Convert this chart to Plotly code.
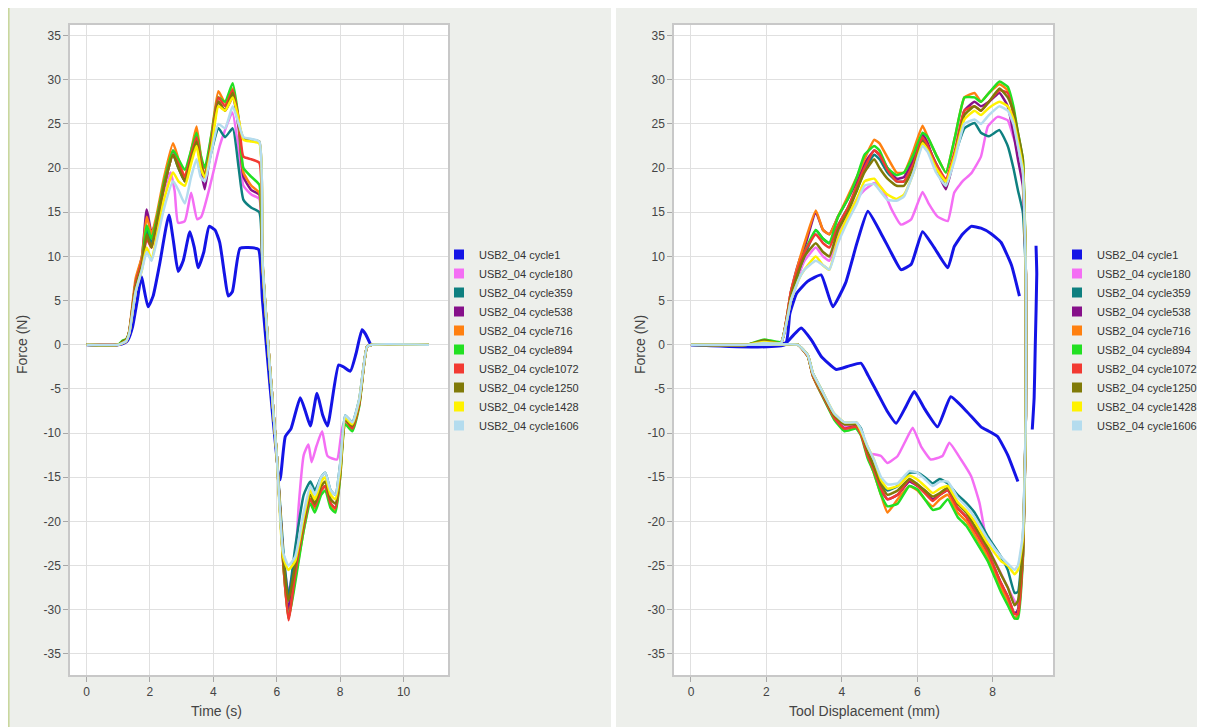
import plotly.graph_objects as go

# ---------------- data ----------------
series_names = ["USB2_04 cycle1", "USB2_04 cycle180", "USB2_04 cycle359", "USB2_04 cycle538",
                "USB2_04 cycle716", "USB2_04 cycle894", "USB2_04 cycle1072", "USB2_04 cycle1250",
                "USB2_04 cycle1428", "USB2_04 cycle1606"]
series_colors = ["#1414E6", "#F46EF4", "#0E8080", "#86108A", "#FF8010", "#22E022",
                 "#F23A32", "#807A08", "#FFF200", "#B4DCEE"]

x_ticks_time = [0, 2, 4, 6, 8, 10]
x_ticks_disp = [0, 2, 4, 6, 8]
y_ticks = [35, 30, 25, 20, 15, 10, 5, 0, -5, -10, -15, -20, -25, -30, -35]
y_tick_labels = ["35", "30", "25", "20", "15", "10", "5", "0", "-5", "-10", "-15", "-20", "-25", "-30", "-35"]

# ---- Force vs Time ----
time_c1 = [0, 1.0, 1.2, 1.3, 1.45, 1.6, 1.73, 1.94, 2.1, 2.3, 2.6, 2.75, 2.89, 3.05, 3.26, 3.4, 3.52, 3.7,
           3.87, 4.05, 4.2, 4.35, 4.47, 4.6, 4.84, 5.1, 5.42, 5.55, 6.1, 6.27, 6.45, 6.74, 6.9, 7.06, 7.27,
           7.45, 7.6, 7.95, 8.1, 8.32, 8.5, 8.69, 8.8, 8.96]
force_t_c1 = [0, 0, 0.2, 0.5, 2, 5, 7.7, 4.3, 5.5, 9, 14.7, 11.5, 8.3, 9.5, 12.8, 11, 8.7, 10.5,
              13.4, 13, 11.6, 8, 5.5, 6, 10.9, 11, 10.8, 5, -15.3, -10.4, -9.5, -6.0, -7.5, -9.2, -5.5,
              -8, -9.2, -2.3, -2.5, -3.0, -1, 1.7, 1.2, 0]

time_c180 = [0, 1.0, 1.15, 1.25, 1.35, 1.55, 1.75, 1.9, 2.05, 2.2, 2.45, 2.65, 2.78, 2.89, 3.1, 3.3, 3.49,
             3.62, 3.89, 4.2, 4.36, 4.6, 4.8, 4.95, 5.2, 5.45, 5.55, 5.75, 6.0, 6.2, 6.37, 6.6, 6.69, 6.85,
             7.0, 7.1, 7.25, 7.43, 7.6, 7.9, 8.1, 8.38, 8.6, 8.85, 9.0, 10.8]
force_t_c180 = [0, 0, 0.2, 0.4, 1.4, 6.5, 9, 12, 11, 13, 17.5, 19.5, 17.4, 13.8, 14, 17.2, 14.2,
                14.5, 17.9, 22.5, 24.2, 26.3, 22, 18, 17, 16.5, 9, -1, -12.5, -24, -28, -23.5, -18.3, -12.5,
                -11.3, -13.3, -11.5, -9.8, -12.6, -13, -9, -9, -6.5, -0.2, 0, 0]

time_grid = [0, 1.0, 1.15, 1.25, 1.35, 1.55, 1.75, 1.9, 2.05, 2.2, 2.45, 2.73, 2.9, 3.1, 3.3, 3.47, 3.6,
             3.73, 3.95, 4.16, 4.37, 4.61, 4.8, 4.95, 5.2, 5.45, 5.55, 5.75, 6.0, 6.2, 6.37, 6.58, 6.85,
             7.06, 7.2, 7.4, 7.53, 7.7, 7.85, 8.0, 8.16, 8.38, 8.6, 8.85, 9.0, 10.8]
force_t_c359 = [0, 0, 0.2, 0.4, 1.5, 6.5, 9, 13, 11.5, 13.5, 18, 21.5, 20, 18.5, 21, 23, 20.5, 19, 22, 24.5,
                23.5, 24.5, 20, 16.4, 15.5, 15, 8.5, -1.5, -12.5, -23, -28.5, -23, -17, -15.5, -16.5, -15,
                -14.5, -16.5, -17, -13.5, -8, -8.8, -6.2, -0.2, 0, 0]
force_t_c538 = [0, 0, 0.2, 0.4, 1.5, 7, 10, 15.3, 12.7, 14, 18.5, 22, 20.5, 18.5, 21.5, 23.5, 20, 17.6, 23,
                27.5, 26.5, 28, 24.5, 19, 17.5, 17, 9, -1, -12.5, -24, -30, -25, -20.5, -17.5, -18.5, -16.5,
                -16, -18, -18.5, -14.5, -8.5, -9.3, -6.6, -0.2, 0, 0]
force_t_c716 = [0, 0, 0.2, 0.4, 1.6, 7.5, 10, 14.5, 12.5, 14.5, 19, 22.8, 21, 19, 22, 24.7, 21.5, 19, 24,
                28.7, 27.4, 29, 25, 19.5, 18, 17.2, 9, -1, -12.5, -24.5, -31, -26.5, -21, -17.5, -18.5,
                -16.5, -16, -18, -18.8, -15, -9, -9.5, -6.8, -0.2, 0, 0]
force_t_c894 = [0, 0, 0.5, 0.6, 1.5, 7, 9.5, 13.5, 12, 14, 18.5, 22, 21, 19.8, 22, 24, 21.5, 20, 24, 28,
                27.5, 29.6, 25.5, 20, 19, 18.1, 9, -1, -12.5, -24.5, -31, -27, -21, -18, -19, -17, -16.5,
                -18.5, -19, -15, -9, -9.8, -7, -0.2, 0, 0]
force_t_c1072 = [0, 0, 0.2, 0.4, 1.5, 7, 9.5, 12, 11, 13.5, 18, 21.5, 20.5, 19, 21.5, 23.5, 21, 19, 23.5,
                 28, 27, 28.8, 25.5, 21.3, 21, 20.6, 9, -1, -12.5, -24.5, -31.2, -26, -20.5, -17.5, -18.3,
                 -16.5, -16, -18, -18.5, -14.5, -8.5, -9.5, -6.8, -0.2, 0, 0]
force_t_c1250 = [0, 0, 0.4, 0.6, 1.4, 6.5, 9, 12.5, 11, 13.5, 18, 21.5, 20, 18.5, 21, 23, 20.5, 19, 23,
                 27.5, 26.5, 28.5, 25, 23.4, 23.2, 23, 9.5, -1, -12.5, -24, -29, -25, -20, -17, -18, -16,
                 -15.5, -17.5, -18, -14, -8.5, -9.2, -6.5, -0.2, 0, 0]
force_t_c1428 = [0, 0, 0.2, 0.4, 1.3, 6, 8.5, 11, 9.6, 12, 16.5, 19.5, 18.5, 18, 20.5, 22.5, 20, 19, 22.5,
                 27, 26.5, 28, 25.5, 23.2, 23, 22.8, 9.5, -1, -12.5, -24, -25.5, -24.5, -19.5, -16.5, -17.5,
                 -15.5, -15, -17, -17.5, -14, -8.3, -9, -6.3, -0.2, 0, 0]
force_t_c1606 = [0, 0, 0.2, 0.4, 1.3, 6, 8.5, 10.5, 9.5, 11.5, 15.5, 18.5, 17.5, 16, 19, 21, 19, 18.5, 22,
                 25, 24.5, 27, 25, 23.5, 23.3, 23, 9.5, -1, -12.5, -23.5, -25, -24, -19, -16, -17, -15,
                 -14.5, -16.5, -17, -13.5, -8, -8.8, -6.2, -0.2, 0, 0]

# ---- Force vs Tool displacement ----
disp_c1_load = [0, 2.5, 2.62, 2.8, 3.1, 3.45, 3.76, 4.1, 4.4, 4.69, 5.04, 5.3, 5.57, 5.84, 6.14, 6.45,
                6.81, 6.98, 7.2, 7.43, 7.69, 7.95, 8.22, 8.5, 8.71]
force_d_c1_load = [0, 0, 3.5, 5.8, 7.2, 7.9, 4.3, 7, 11.5, 15.1, 12.6, 10.5, 8.5, 9.1, 12.8, 11,
                   8.7, 11.1, 12.5, 13.4, 13.2, 12.6, 11.6, 9, 5.5]
disp_c1_drop = [9.15, 9.17, 9.13, 9.1, 9.05]
force_d_c1_drop = [11.2, 8, 0, -6, -9.6]
disp_c1_unload = [8.67, 8.4, 8.13, 7.9, 7.69, 7.3, 6.89, 6.54, 6.2, 5.92, 5.7, 5.44, 5.2, 4.95, 4.7, 4.51,
                  4.2, 3.85, 3.45, 3.2, 2.92, 2.7, 2.52, 2.0, 0]
force_d_c1_unload = [-15.5, -12.5, -10.4, -9.8, -9.3, -7.5, -5.9, -9.3, -7.3, -5.3, -7, -8.9, -7.5, -5.5,
                     -3.5, -2.1, -2.4, -2.8, -1.3, 0.5, 1.9, 1.0, 0.2, 0, 0]

disp_c180_load = [0, 1.5, 1.94, 2.39, 2.65, 2.87, 3.01, 3.31, 3.5, 3.67, 3.9, 4.16, 4.4, 4.6, 4.86, 5.0,
                  5.13, 5.3, 5.57, 5.84, 6.14, 6.3, 6.54, 6.81, 6.98, 7.2, 7.43, 7.69, 7.87, 8.13, 8.4,
                  8.55, 8.71, 8.8, 8.88]
force_d_c180_load = [0, 0, 0.3, 0.2, 5, 8, 9.5, 11, 10, 9.5, 12.5, 14.5, 16.5, 17.5, 18.3, 18,
                     17.2, 15.5, 13.6, 14.2, 17.3, 16, 14.5, 14, 17.2, 18.5, 19.4, 21.3, 24.7, 25.8, 25.4,
                     23.5, 21.6, 19, 8]
disp_c180_unload = [8.88, 8.8, 8.67, 8.58, 8.4, 8.22, 7.87, 7.65, 7.43, 7.16, 6.85, 6.67, 6.36, 6.1, 5.88,
                    5.7, 5.48, 5.21, 5.04, 4.85, 4.68, 4.51, 4.38, 4.07, 3.8, 3.45, 3.23, 3.1, 2.83, 2.0, 0]
force_d_c180_unload = [-8, -23, -29.5, -29, -27.5, -25.9, -22.8, -17.9, -14.9, -13, -11.1, -12.6, -13,
                       -11.5, -9.4, -10.8, -12.6, -13.4, -12.6, -12.4, -12.3, -10, -9.1, -9.2, -8.1, -5.3,
                       -3.4, -1.3, 0, 0, 0]

disp_load_grid = [0, 1.5, 1.94, 2.39, 2.65, 2.87, 3.01, 3.31, 3.5, 3.67, 3.9, 4.16, 4.4, 4.6, 4.86, 5.0,
                  5.21, 5.45, 5.65, 5.9, 6.14, 6.28, 6.5, 6.76, 7.0, 7.25, 7.52, 7.69, 7.9, 8.18, 8.4,
                  8.55, 8.67, 8.8, 8.88]
disp_unload_grid = [8.88, 8.8, 8.67, 8.58, 8.4, 8.22, 7.87, 7.52, 7.3, 7.07, 6.81, 6.6, 6.41, 6.2, 6.01,
                    5.79, 5.48, 5.21, 5.04, 4.85, 4.68, 4.51, 4.38, 4.07, 3.8, 3.45, 3.23, 3.1, 2.83, 2.0, 0]

force_d_c359_load = [0, 0, 0.3, 0.2, 5, 8.5, 10, 13, 12, 11.5, 13.5, 15.5, 17.5, 19.8, 21.5, 21, 19.5,
                     18.5, 18.5, 20.5, 23.2, 22.5, 20.5, 18.5, 21.5, 24.5, 25.1, 24, 23.6, 24.3, 22.5, 20,
                     17.5, 15, 8]
force_d_c538_load = [0, 0, 0.2, 0.2, 6, 9.5, 11, 15, 13, 12.5, 14.5, 16.5, 18.5, 20.5, 22, 21.5, 20,
                     18.8, 19, 21, 23.8, 22.8, 20, 17.6, 21.5, 26.5, 27.5, 27, 27.5, 28.5, 27, 24, 21, 18, 8]
force_d_c716_load = [0, 0, 0.2, 0.2, 6, 9.5, 11.5, 15.2, 13, 12.5, 14.5, 16.8, 19, 21, 23.2, 22.8, 21.2,
                     19.5, 19.5, 22, 24.8, 23.5, 21.5, 19.5, 23.5, 28, 28.5, 27.5, 28.5, 29.5, 28.8, 26.5,
                     23.5, 20, 8]
force_d_c894_load = [0, 0, 0.6, 0.3, 5.5, 8.5, 10.5, 13, 12, 11.5, 14.5, 16.5, 19, 21.5, 22.5, 22, 20,
                     19.2, 19.5, 21.5, 24, 23.5, 21.5, 19.5, 23.5, 28, 28, 27.5, 28.5, 29.8, 29.2, 27, 24,
                     21, 8]
force_d_c1072_load = [0, 0, 0.3, 0.2, 6, 9, 10.5, 12.5, 11.5, 11, 13.5, 15.5, 18, 20, 22, 21.5, 19.8,
                      18.5, 18.5, 20.5, 23.5, 22.5, 20.5, 18.8, 22, 26.5, 27, 26.5, 27.5, 28.8, 28.5, 26,
                      23, 20, 8]
force_d_c1250_load = [0, 0, 0.5, 0.2, 5.5, 8.5, 10, 11.5, 10.5, 10, 13, 15, 17.5, 19.5, 21, 20, 18.8,
                      18, 18, 20, 23, 22, 20, 18, 21.5, 26, 27, 26.5, 27.5, 29, 28, 26.5, 24, 21, 8]
force_d_c1428_load = [0, 0, 0.3, 0.2, 5, 7.5, 8.5, 10, 9, 8.5, 12, 14.5, 16.5, 18.5, 18.8, 18, 17,
                      16.5, 17, 19.5, 22.8, 22, 20, 18.5, 21.5, 25.5, 26.5, 26, 26.8, 27.5, 27, 25.5, 23,
                      20, 8]
force_d_c1606_load = [0, 0, 0.2, 0.2, 5, 7.5, 8.5, 9.5, 9, 8.5, 11.5, 14, 16, 18, 18.2, 17.5, 16.4,
                      16.3, 16.8, 19.5, 22.5, 21.8, 19.5, 18, 21, 25, 25.5, 25, 26, 27, 26.5, 25, 22.5,
                      19.5, 8]

force_d_c359_unload = [-8, -22, -28, -28.1, -25.5, -24, -21.7, -19, -17.9, -17, -15.7, -15.2, -15.7, -15,
                       -14.5, -14.5, -16, -16.5, -15.5, -13.5, -12, -9.5, -8.8, -9, -8, -5, -3.2, -1.2,
                       0, 0, 0]
force_d_c538_unload = [-8, -24, -30, -30.5, -28.5, -27, -23.5, -21, -19.5, -18.5, -16.5, -17, -17.5,
                       -16.5, -16, -15.5, -17, -17.5, -16.5, -14, -12.5, -10, -9.2, -9.5, -8.3, -5.5,
                       -3.5, -1.3, 0, 0, 0]
force_d_c716_unload = [-8, -24, -30.5, -31, -29, -27.5, -24, -21.5, -20, -19, -17, -17.5, -18.3, -17.5,
                       -16.5, -16, -17.5, -19, -17, -14.5, -12.5, -10, -9, -9, -8, -5.5, -3.5, -1.3,
                       0, 0, 0]
force_d_c894_unload = [-8, -24.5, -31, -31, -29.5, -28, -24.5, -22, -20.5, -19.5, -17.5, -18.5, -18.7,
                       -17.5, -16.4, -16, -18, -18.3, -17, -14.5, -12.8, -10.3, -9.5, -9.8, -8.5, -5.5,
                       -3.5, -1.3, 0, 0, 0]
force_d_c1072_unload = [-8, -24, -30.5, -30.5, -28.5, -27, -23.5, -21, -19.5, -18.5, -16.5, -17, -17.7,
                        -16.8, -16, -15.3, -17, -17.5, -16.3, -14.2, -12.5, -10.2, -9.3, -9.5, -8.3,
                        -5.4, -3.5, -1.3, 0, 0, 0]
force_d_c1250_unload = [-8, -23, -29, -29.5, -27.5, -26, -23, -20.5, -19, -18, -16.2, -16.8, -17.2,
                        -16.5, -15.8, -15.2, -16.5, -17, -15.8, -13.8, -12, -9.8, -9, -9, -8, -5.2,
                        -3.3, -1.2, 0, 0, 0]
force_d_c1428_unload = [-8, -22, -25.5, -26, -25, -24.5, -22.5, -20, -18.8, -17.8, -16, -16.3, -16.8,
                        -16, -15.3, -14.8, -16, -16.3, -15.3, -13, -11.5, -9.8, -8.8, -8.8, -7.8, -5,
                        -3.2, -1.2, 0, 0, 0]
force_d_c1606_unload = [-8, -21.5, -25, -25.5, -24.8, -24, -22, -19.5, -18.3, -17.3, -15.5, -15.5, -16,
                        -15.2, -14.5, -14.3, -15.7, -15.8, -15, -13, -11.5, -9.6, -8.8, -8.8, -7.8, -5,
                        -3.2, -1.2, 0, 0, 0]

# ---------------- figure ----------------
# The page body adds an 8 px margin, so the figure is 8 px smaller than the window.
W, H = 1197, 719
LW = 2.5

time_data = [
    (time_c1, force_t_c1), (time_c180, force_t_c180),
    (time_grid, force_t_c359), (time_grid, force_t_c538), (time_grid, force_t_c716),
    (time_grid, force_t_c894), (time_grid, force_t_c1072), (time_grid, force_t_c1250),
    (time_grid, force_t_c1428), (time_grid, force_t_c1606),
]
disp_data = [
    (disp_c1_load + [None] + disp_c1_drop + [None] + disp_c1_unload,
     force_d_c1_load + [None] + force_d_c1_drop + [None] + force_d_c1_unload),
    (disp_c180_load + disp_c180_unload, force_d_c180_load + force_d_c180_unload),
    (disp_load_grid + disp_unload_grid, force_d_c359_load + force_d_c359_unload),
    (disp_load_grid + disp_unload_grid, force_d_c538_load + force_d_c538_unload),
    (disp_load_grid + disp_unload_grid, force_d_c716_load + force_d_c716_unload),
    (disp_load_grid + disp_unload_grid, force_d_c894_load + force_d_c894_unload),
    (disp_load_grid + disp_unload_grid, force_d_c1072_load + force_d_c1072_unload),
    (disp_load_grid + disp_unload_grid, force_d_c1250_load + force_d_c1250_unload),
    (disp_load_grid + disp_unload_grid, force_d_c1428_load + force_d_c1428_unload),
    (disp_load_grid + disp_unload_grid, force_d_c1606_load + force_d_c1606_unload),
]

fig = go.Figure()
for i, (name, col) in enumerate(zip(series_names, series_colors)):
    lw = 3.0 if i == 0 else LW
    tx, ty = time_data[i]
    fig.add_trace(go.Scatter(x=tx, y=ty, mode="lines",
                             line=dict(color=col, width=lw, shape="spline", smoothing=0.5),
                             name=name, showlegend=False, xaxis="x", yaxis="y"))
    dx, dy = disp_data[i]
    fig.add_trace(go.Scatter(x=dx, y=dy, mode="lines",
                             line=dict(color=col, width=lw, shape="spline", smoothing=0.4),
                             name=name, showlegend=False, connectgaps=False, xaxis="x2", yaxis="y2"))

# legend entries (square swatches)
for name, col in zip(series_names, series_colors):
    fig.add_trace(go.Scatter(x=[None], y=[None], mode="markers", name=name,
                             marker=dict(symbol="square", size=10, color=col),
                             legend="legend", xaxis="x", yaxis="y"))
    fig.add_trace(go.Scatter(x=[None], y=[None], mode="markers", name=name,
                             marker=dict(symbol="square", size=10, color=col),
                             legend="legend2", xaxis="x2", yaxis="y2"))

axis_common = dict(showgrid=True, gridcolor="#E0E0E0", gridwidth=1, zeroline=False,
                   showline=True, mirror=True, linecolor="#C8C8C8", linewidth=1.5,
                   ticks="outside", ticklen=5, tickcolor="#A8A8A8",
                   tickfont=dict(size=12, color="#444444"))
ydom = [1 - 667 / H, 1 - 17 / H]
panel_bg = "#EDEFEB"

fig.update_layout(
    width=W, height=H, margin=dict(l=0, r=0, t=0, b=0),
    paper_bgcolor=panel_bg, plot_bgcolor="white",
    font=dict(family="Arial, 'Liberation Sans', sans-serif", size=12, color="#444444"),
    xaxis=dict(domain=[62 / W, 440 / W], range=[-0.52, 11.4], tickvals=x_ticks_time,
               ticktext=[str(v) for v in x_ticks_time], anchor="y", **axis_common),
    yaxis=dict(domain=ydom, range=[-37.4, 36.2], tickvals=y_ticks, ticktext=y_tick_labels,
               anchor="x", **axis_common),
    xaxis2=dict(domain=[666 / W, 1045 / W], range=[-0.45, 9.6], tickvals=x_ticks_disp,
                ticktext=[str(v) for v in x_ticks_disp], anchor="y2", **axis_common),
    yaxis2=dict(domain=ydom, range=[-37.4, 36.2], tickvals=y_ticks, ticktext=y_tick_labels,
                anchor="x2", **axis_common),
    legend=dict(x=431 / W, y=1 - 232 / H, xanchor="left", yanchor="top",
                font=dict(size=11, color="#333333"), bgcolor="rgba(0,0,0,0)",
                itemwidth=30, tracegroupgap=0),
    legend2=dict(x=1049 / W, y=1 - 232 / H, xanchor="left", yanchor="top",
                 font=dict(size=11, color="#333333"), bgcolor="rgba(0,0,0,0)",
                 itemwidth=30, tracegroupgap=0),
    shapes=[
        dict(type="rect", xref="paper", yref="paper", x0=603 / W, x1=608 / W, y0=0, y1=1,
             fillcolor="white", line=dict(width=0), layer="below"),
        dict(type="line", xref="paper", yref="paper", x0=0.6 / W, x1=0.6 / W, y0=0, y1=1,
             line=dict(color="#C9D79E", width=2), layer="below"),
    ],
    annotations=[
        dict(text="Force (N)", x=14 / W, y=1 - 337 / H, xref="paper", yref="paper",
             xanchor="center", yanchor="middle",
             textangle=-90, showarrow=False, font=dict(size=14, color="#444444")),
        dict(text="Force (N)", x=632 / W, y=1 - 337 / H, xref="paper", yref="paper",
             xanchor="center", yanchor="middle",
             textangle=-90, showarrow=False, font=dict(size=14, color="#444444")),
        dict(text="Time (s)", x=208 / W, y=1 - 703 / H, xref="paper", yref="paper",
             xanchor="center", yanchor="middle",
             showarrow=False, font=dict(size=14, color="#444444")),
        dict(text="Tool Displacement (mm)", x=856 / W, y=1 - 703 / H, xref="paper", yref="paper",
             xanchor="center", yanchor="middle",
             showarrow=False, font=dict(size=14, color="#444444")),
    ],
)

fig.write_html("out.html")
